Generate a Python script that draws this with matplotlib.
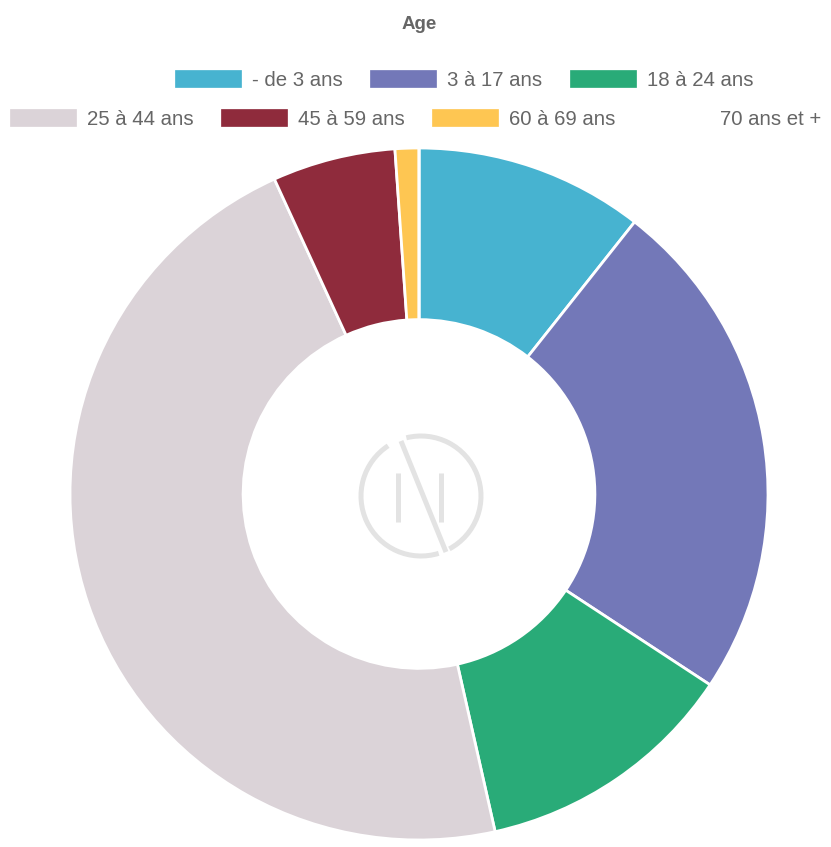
import matplotlib
matplotlib.use("Agg")
import matplotlib.pyplot as plt
from matplotlib.patches import Rectangle, Arc

categories = ["- de 3 ans", "3 à 17 ans", "18 à 24 ans", "25 à 44 ans",
              "45 à 59 ans", "60 à 69 ans", "70 ans et +"]
values = [10.6, 23.7, 12.2, 46.7, 5.7, 1.1, 0.0]
colors = ["#47b3d0", "#7378b8", "#29ab78", "#dbd3d8", "#8f2b3c", "#fec652", "#ffffff"]

W, H = 831, 847
fig = plt.figure(figsize=(W / 100, H / 100), dpi=100)
plt.rcParams['font.family'] = ['Liberation Sans', 'DejaVu Sans']

cx, cy, Rx, Ry = 419, 494, 349, 346
ax = fig.add_axes([(cx - Rx) / W, (H - (cy + Ry)) / H, 2 * Rx / W, 2 * Ry / H])
ax.axis("off")

ax.pie(values, colors=colors, startangle=90, counterclock=False, radius=1,
       wedgeprops=dict(width=0.496, edgecolor="white", linewidth=2))
ax.set_aspect("auto")
ax.set_xlim(-1, 1)
ax.set_ylim(-1, 1)

# decorative logo in the centre
lc = "#e3e3e3"
lw = 3.6
def px(x, y):
    return ((x - cx) / Rx, (cy - y) / Ry)
o = px(421, 496)
ax.add_patch(Arc(o, 2 * 60 / Rx, 2 * 60 / Ry, theta1=-62, theta2=104, color=lc, lw=lw))
ax.add_patch(Arc(o, 2 * 60 / Rx, 2 * 60 / Ry, theta1=123, theta2=287, color=lc, lw=lw))
for (x1, y1), (x2, y2) in [((398, 473), (398, 522)), ((441, 473), (441, 522)),
                           ((401, 441), (446, 552))]:
    a, b = px(x1, y1), px(x2, y2)
    ax.plot([a[0], b[0]], [a[1], b[1]], color=lc, lw=lw, solid_capstyle="butt")

# title
fig.text(cx / W, 1 - 29 / H, "Age", ha="center", va="baseline", fontsize=13.5,
         fontweight="bold", color="#666666")

# legend (drawn in figure pixel coordinates)
rows = [[0, 1, 2], [3, 4, 5, 6]]
row_y = [78.5, 117.5]
box_x = [[175, 370, 570], [10, 221, 432, 643]]
for r, idxs in enumerate(rows):
    for j, i in enumerate(idxs):
        bx = box_x[r][j]
        y = row_y[r]
        fig.patches.append(Rectangle((bx / W, 1 - (y + 8.5) / H), 66 / W, 17 / H,
                                     transform=fig.transFigure, facecolor=colors[i],
                                     edgecolor=colors[i], lw=0.5))
        fig.text((bx + 77) / W, 1 - (y + 7.5) / H, categories[i], ha="left",
                 va="baseline", fontsize=14.7, color="#666666")

fig.savefig("out.png", dpi=100, facecolor="white")
